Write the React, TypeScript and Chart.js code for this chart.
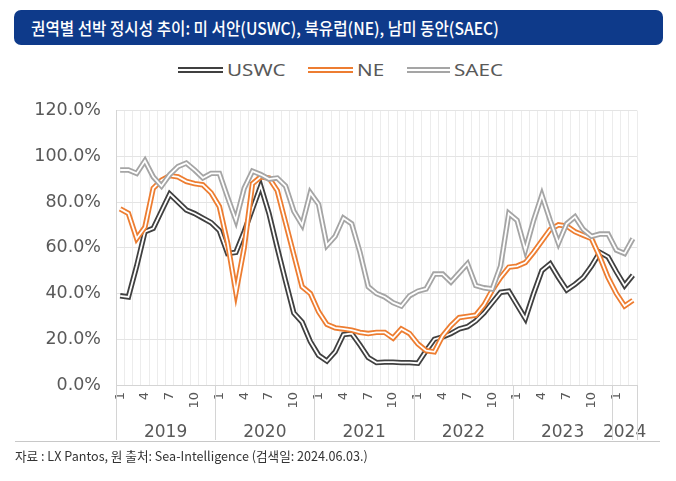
import React, { useEffect, useRef } from 'react';
import { Chart, registerables } from 'chart.js';

Chart.register(...registerables);

// ---- data ----
const years = ['2019', '2020', '2021', '2022', '2023', '2024'];
const monthsInYear = [12, 12, 12, 12, 12, 3];
const tickMonths = [1, 4, 7, 10];
const seriesNames = ['USWC', 'NE', 'SAEC'];
const seriesColors = ['#404040', '#ED7D31', '#A5A5A5'];

const uswc = [
  39, 38.5, 52, 67, 68.5, 76, 83.5, 80, 76.5, 75, 73, 71,
  67.5, 57.5, 58, 67, 77, 87, 75, 60, 45.5, 31.5, 27.5, 19,
  13, 10.5, 14.5, 22, 22.5, 17.5, 12, 9.8, 10, 10, 9.8, 9.8,
  9.5, 15, 20, 21, 22.5, 24.5, 25.5, 28, 31.5, 36, 40.5, 41,
  35, 29, 40, 50, 53, 47, 41.5, 44, 47, 52, 58, 56,
  49.5, 43.5, 48,
];
const ne = [
  77, 75, 64, 69, 86, 89.5, 91.5, 91, 89, 88, 87.5, 84,
  78, 62, 40.5, 60, 88, 91, 90.5, 85, 71, 57, 43, 40,
  32, 26.5, 25, 24.5, 24, 23, 22.5, 23, 23, 20.5, 24.5, 22.5,
  18, 15, 14.5, 21.5, 26, 29.5, 30, 30.5, 35, 41.5, 47, 51.5,
  52, 53.5, 58, 63, 68, 70, 69.5, 67, 65.5, 64, 56, 47,
  40, 34.5, 37,
];
const saec = [
  94, 94, 92.5, 98, 91, 87, 92, 95.5, 97, 94, 90.5, 92.5,
  92.5, 82, 72, 86, 93.5, 92, 90, 90.5, 87, 76, 70, 84,
  79, 61, 65, 73, 70.5, 58, 43, 40, 38.5, 36, 34.5, 39,
  41, 42, 48.5, 48.5, 45, 49, 53, 43.5, 42.5, 42, 52, 75,
  72, 59, 72, 83, 72, 62, 70.5, 73.5, 68, 65, 66, 66,
  59, 57.5, 64,
];
const seriesValues = [uswc, ne, saec];

const yMin = 0;
const yMax = 120;
const yStep = 20;

const labels: string[] = years.flatMap((y, i) =>
  Array.from({ length: monthsInYear[i] }, (_, m) => `${y}-${m + 1}`)
);

const AXIS_FONT = '"DejaVu Sans", "Noto Sans", sans-serif';
const TEXT_COLOR = '#595959';

const yearPlugin = {
  id: 'yearLabels',
  afterDraw(chart: any) {
    const { ctx, chartArea, scales } = chart;
    const x = scales.x;
    const step = x.getPixelForValue(1) - x.getPixelForValue(0);
    const top = chartArea.bottom;
    ctx.save();
    ctx.strokeStyle = '#d4d4d4';
    ctx.lineWidth = 1;
    ctx.fillStyle = TEXT_COLOR;
    ctx.font = `17px ${AXIS_FONT}`;
    ctx.textAlign = 'center';
    ctx.textBaseline = 'middle';
    let idx = 0;
    let end = 0;
    years.forEach((yr, i) => {
      const start = x.getPixelForValue(idx) - step / 2;
      end = x.getPixelForValue(idx + monthsInYear[i] - 1) + step / 2;
      const sx = Math.round(start) + 0.5;
      ctx.beginPath();
      ctx.moveTo(sx, top);
      ctx.lineTo(sx, top + 55);
      ctx.stroke();
      ctx.fillText(yr, (start + end) / 2, top + 48);
      idx += monthsInYear[i];
    });
    const ex = Math.round(end) + 0.5;
    ctx.beginPath();
    ctx.moveTo(ex, top);
    ctx.lineTo(ex, top + 55);
    ctx.stroke();
    ctx.restore();
  },
};

function buildDatasets() {
  const ds: any[] = [];
  // lower order = drawn on top; later series on top (Excel style)
  seriesValues.forEach((vals, i) => {
    const base = (seriesValues.length - 1 - i) * 2;
    ds.push({
      label: seriesNames[i],
      data: vals,
      borderColor: seriesColors[i],
      backgroundColor: seriesColors[i],
      borderWidth: 5.4,
      pointRadius: 0,
      pointHoverRadius: 0,
      tension: 0,
      borderJoinStyle: 'miter',
      order: base + 1,
    });
    ds.push({
      label: seriesNames[i] + '-inner',
      data: vals,
      borderColor: '#ffffff',
      backgroundColor: '#ffffff',
      borderWidth: 1.8,
      pointRadius: 0,
      pointHoverRadius: 0,
      tension: 0,
      borderJoinStyle: 'miter',
      order: base,
    });
  });
  return ds;
}

function LegendItem({ left, textLeft, color, text }: { left: number; textLeft: number; color: string; text: string }) {
  return (
    <>
      <div
        style={{
          position: 'absolute',
          left,
          top: 67,
          width: textLeft - left - 4,
          height: 1.7,
          background: '#fff',
          borderTop: `2px solid ${color}`,
          borderBottom: `2px solid ${color}`,
        }}
      />
      <span
        style={{
          position: 'absolute',
          left: textLeft,
          top: 59,
          display: 'inline-block',
          fontFamily: '"Noto Sans", sans-serif',
          fontSize: 16.5,
          color: TEXT_COLOR,
          lineHeight: '22px',
          transform: 'scaleX(1.25)',
          transformOrigin: 'left center',
          whiteSpace: 'nowrap',
        }}
      >
        {text}
      </span>
    </>
  );
}

export default function App() {
  const canvasRef = useRef<HTMLCanvasElement | null>(null);

  useEffect(() => {
    if (!canvasRef.current) return;
    const chart = new Chart(canvasRef.current, {
      type: 'line',
      data: { labels, datasets: buildDatasets() },
      options: {
        animation: false,
        responsive: true,
        maintainAspectRatio: false,
        layout: { padding: { top: 15, right: 39, left: 0, bottom: 0 } },
        plugins: {
          legend: { display: false },
          tooltip: { enabled: false },
        },
        scales: {
          x: {
            type: 'category',
            offset: true,
            grid: { offset: true, color: '#ececec', drawTicks: false, lineWidth: 1 },
            border: { color: '#d4d4d4' },
            ticks: {
              autoSkip: false,
              minRotation: 90,
              maxRotation: 90,
              padding: 7,
              color: TEXT_COLOR,
              font: { family: AXIS_FONT, size: 13 },
              callback: (_v: any, index: number) => {
                const m = Number(labels[index].split('-')[1]);
                return tickMonths.includes(m) ? String(m) : '';
              },
            },
            afterFit: (s: any) => {
              s.height = 60;
            },
          },
          y: {
            min: yMin,
            max: yMax,
            grid: { color: '#e4e4e4', drawTicks: false },
            border: { color: '#d4d4d4' },
            ticks: {
              stepSize: yStep,
              padding: 15,
              color: TEXT_COLOR,
              font: { family: AXIS_FONT, size: 17.5 },
              callback: (v: any) => Number(v).toFixed(1) + '%',
            },
            afterFit: (s: any) => {
              s.width = 116;
            },
          },
        },
      },
      plugins: [yearPlugin],
    });
    return () => chart.destroy();
  }, []);

  return (
    <div style={{ position: 'absolute', left: 0, top: 0, width: 676, height: 481, background: '#fff', overflow: 'hidden' }}>
      <div
        style={{
          position: 'absolute',
          left: 14,
          top: 10,
          width: 649,
          height: 35,
          background: '#0e3a8a',
          borderRadius: 7,
        }}
      />
      <span
        style={{
          position: 'absolute',
          left: 31,
          top: 10,
          display: 'inline-block',
          color: '#fff',
          fontFamily: '"Noto Sans CJK KR", sans-serif',
          fontWeight: 500,
          fontSize: 17,
          lineHeight: '35px',
          whiteSpace: 'nowrap',
          transform: 'scaleX(0.92)',
          transformOrigin: 'left center',
        }}
      >
        권역별 선박 정시성 추이: 미 서안(USWC), 북유럽(NE), 남미 동안(SAEC)
      </span>
      <LegendItem left={178} textLeft={227} color={seriesColors[0]} text={seriesNames[0]} />
      <LegendItem left={308} textLeft={357} color={seriesColors[1]} text={seriesNames[1]} />
      <LegendItem left={407} textLeft={454} color={seriesColors[2]} text={seriesNames[2]} />
      <div style={{ position: 'absolute', left: 0, top: 85, width: 676, height: 360 }}>
        <canvas ref={canvasRef} />
      </div>
      <div style={{ position: 'absolute', left: 15, top: 441, width: 645, height: 1, background: '#c8c8c8' }} />
      <span
        style={{
          position: 'absolute',
          left: 15,
          top: 446,
          display: 'inline-block',
          fontFamily: '"Noto Sans CJK KR", sans-serif',
          fontSize: 13,
          color: '#333',
          whiteSpace: 'nowrap',
          transform: 'scaleX(0.97)',
          transformOrigin: 'left center',
        }}
      >
        자료 : LX Pantos, 원 출처: Sea-Intelligence (검색일: 2024.06.03.)
      </span>
    </div>
  );
}
